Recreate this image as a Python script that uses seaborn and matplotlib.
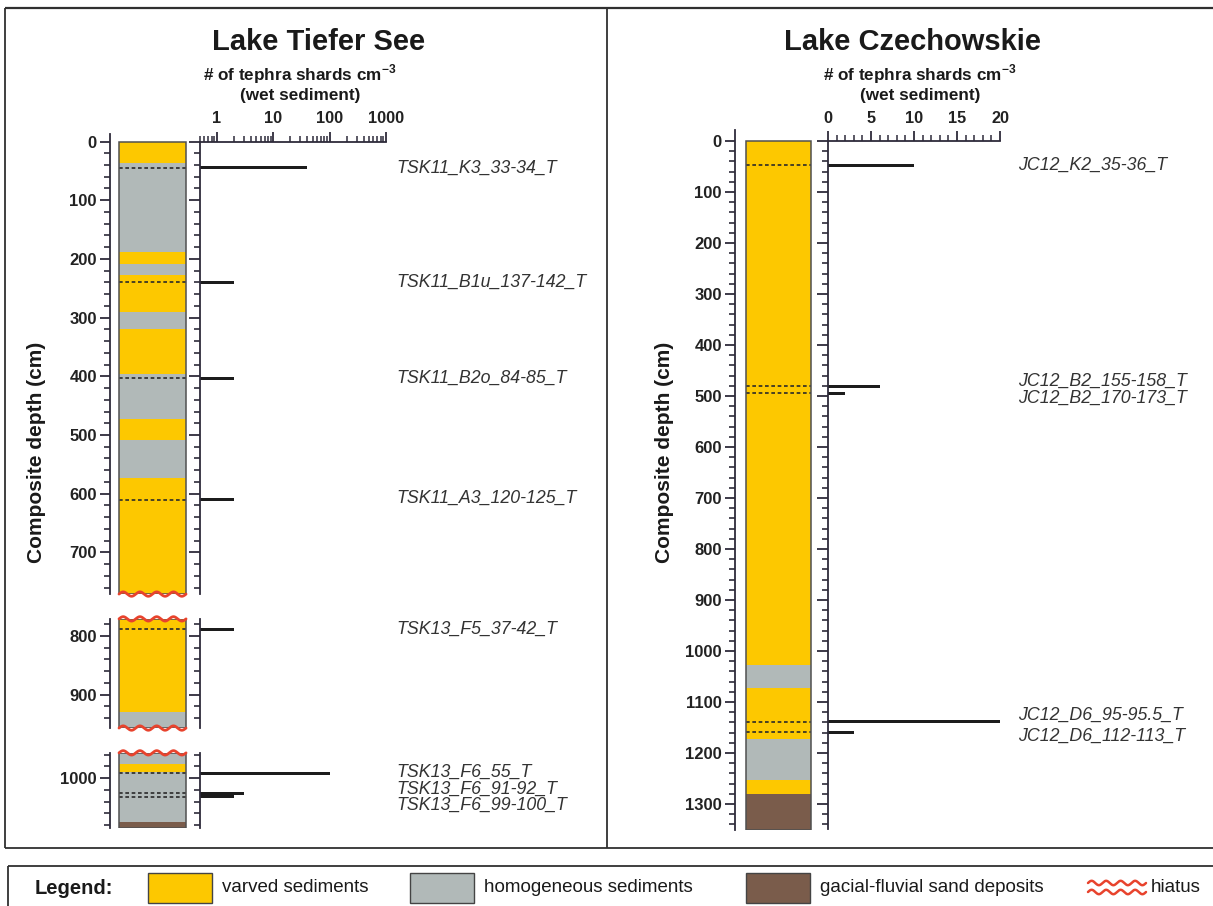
import numpy as np
import pandas as pd
import matplotlib
matplotlib.use("Agg")
import matplotlib.pyplot as plt
import seaborn as sns
from matplotlib.patches import Rectangle
from matplotlib.lines import Line2D
from matplotlib.ticker import LogLocator, NullFormatter

# ---------------- Lake Tiefer See ----------------
tsk_samples = ["TSK11_K3_33-34_T", "TSK11_B1u_137-142_T", "TSK11_B2o_84-85_T",
               "TSK11_A3_120-125_T", "TSK13_F5_37-42_T", "TSK13_F6_55_T",
               "TSK13_F6_91-92_T", "TSK13_F6_99-100_T"]
tsk_depth = [45, 240, 403, 610, 789, 992, 1026, 1032]          # composite depth (cm)
tsk_shards = [40, 2, 2, 2, 2, 100, 3, 2]                         # shards per cm3
tsk_layer_top = [0, 36, 188, 209, 228, 291, 320, 396, 473, 508, 574, 930, 957, 976, 990, 1075]
tsk_layer_bottom = [36, 188, 209, 228, 291, 320, 396, 473, 508, 574, 930, 957, 976, 990, 1075, 1085]
tsk_layer_type = ["varved", "homogeneous", "varved", "homogeneous", "varved", "homogeneous",
                  "varved", "homogeneous", "varved", "homogeneous", "varved", "homogeneous",
                  "homogeneous", "varved", "homogeneous", "sand"]
tsk_hiatus = [771, 957]
tsk_core_base = 1085

# ---------------- Lake Czechowskie ----------------
jc_samples = ["JC12_K2_35-36_T", "JC12_B2_155-158_T", "JC12_B2_170-173_T",
              "JC12_D6_95-95.5_T", "JC12_D6_112-113_T"]
jc_depth = [48, 481, 495, 1139, 1159]
jc_shards = [10, 6, 2, 20, 3]
jc_layer_top = [0, 1028, 1073, 1173, 1253, 1280]
jc_layer_bottom = [1028, 1073, 1173, 1253, 1280, 1350]
jc_layer_type = ["varved", "homogeneous", "varved", "homogeneous", "varved", "sand"]
jc_hiatus = []
jc_core_base = 1350

legend_names = {"varved": "varved sediments",
                "homogeneous": "homogeneous sediments",
                "sand": "gacial-fluvial sand deposits"}

# ---------------- styling ----------------
sns.set_style("ticks")
plt.rcParams["font.family"] = ["Liberation Sans", "DejaVu Sans"]
plt.rcParams["mathtext.fontset"] = "custom"
plt.rcParams["mathtext.rm"] = "Liberation Sans"
plt.rcParams["mathtext.bf"] = "Liberation Sans:bold"

FILL = {"varved": "#FDC800", "homogeneous": "#B1B9B8", "sand": "#7A5C4B"}
INK = "#2E2B3A"
BAR = "#1C1C1C"
WAVE = "#E8432D"

W, H = 1213, 906
fig = plt.figure(figsize=(W / 100, H / 100), dpi=100)


def fx(x):
    return x / W


def fy(y):
    return 1 - y / H


def px_axes(x0, x1, y0, y1):
    return fig.add_axes([x0 / W, 1 - y1 / H, (x1 - x0) / W, (y1 - y0) / H])


def wave(ax, x0, x1, y, amp, periods=4, **kw):
    xs = np.linspace(x0, x1, 300)
    ys = y - amp * np.sin(2 * np.pi * periods * (xs - x0) / (x1 - x0))
    ax.plot(xs, ys, **kw)


def draw_panel(samples, depth, shards, ltop, lbot, ltype, hiatus, base, lay):
    bounds = [0] + list(hiatus) + [base]
    segs = list(zip(bounds[:-1], bounds[1:]))
    scale = lay["scale"]

    def ypx(d, i):
        return lay["y0"] + scale * d + lay["gap"] * i

    def seg_of(d):
        for i, (t, b) in enumerate(segs):
            if t <= d <= b:
                return i
        return len(segs) - 1

    df = pd.DataFrame({"depth": depth, "shards": shards})
    cx0, cx1 = lay["col"]
    amp = 2.2 / scale

    for i, (top, bot) in enumerate(segs):
        d_top = top - lay["overhang"] if i == 0 else top
        # ---- depth scale and lithology column ----
        ax_d = px_axes(lay["x_axis"], lay["x_bar"], ypx(d_top, i), ypx(bot, i))
        ax_d.patch.set_visible(False)
        ax_d.set_xlim(0, 1)
        ax_d.set_ylim(bot, d_top)
        for t, b, k in zip(ltop, lbot, ltype):
            t2, b2 = max(t, top), min(b, bot)
            if b2 > t2:
                ax_d.add_patch(Rectangle((cx0, t2), cx1 - cx0, b2 - t2,
                                         fc=FILL[k], ec="none", zorder=1))
        ax_d.add_patch(Rectangle((cx0, top), cx1 - cx0, bot - top, fill=False,
                                 ec="#505050", lw=1.1, zorder=3))
        for d in depth:
            if top <= d <= bot:
                ax_d.plot([cx0, cx1], [d, d], color="#2a2a2a", lw=1.2,
                          ls=(0, (2.2, 1.6)), zorder=2)
        if i > 0:
            wave(ax_d, cx0, cx1, top, amp, color=WAVE, lw=2, zorder=4, clip_on=False)
        if i < len(segs) - 1:
            wave(ax_d, cx0, cx1, bot, amp, color=WAVE, lw=2, zorder=4, clip_on=False)

        majors = [v for v in range(0, 1500, 100) if d_top <= v <= bot]
        minors = [v for v in range(0, 1500, 20) if d_top <= v <= bot and v % 100]
        ax_d.set_xticks([])
        ax_d.set_yticks(majors, labels=[str(v) for v in majors],
                        fontsize=12, fontweight="bold", color="#222222")
        ax_d.set_yticks(minors, minor=True)
        ax_d.tick_params(axis="y", which="major", length=7.5, width=1.3,
                         direction="out", pad=2, color=INK)
        ax_d.tick_params(axis="y", which="minor", length=4, width=1.2,
                         direction="out", color=INK)
        for s in ("top", "right", "bottom"):
            ax_d.spines[s].set_visible(False)
        ax_d.spines["left"].set_color(INK)
        ax_d.spines["left"].set_linewidth(1.3)

        # ---- tephra concentration bars ----
        ax_b = px_axes(lay["x_bar"], lay["x_end"], ypx(top, i), ypx(bot, i))
        ax_b.patch.set_visible(False)
        if lay["log"]:
            ax_b.set_xscale("log")
        sub = df[(df.depth >= top) & (df.depth <= bot)]
        if len(sub):
            uniq = np.sort(sub.depth.unique())
            spacing = np.diff(uniq).min() if len(uniq) > 1 else 1.0
            sns.barplot(data=sub, x="shards", y="depth", orient="y", native_scale=True,
                        width=lay["bar_cm"] / spacing, color=BAR, saturation=1,
                        errorbar=None, linewidth=0, ax=ax_b)
        ax_b.set_xlabel("")
        ax_b.set_ylabel("")
        ax_b.set_xlim(*lay["xlim"])
        ax_b.set_ylim(bot, top)
        ax_b.set_yticks(majors, labels=[])
        ax_b.set_yticks(minors, minor=True)
        ax_b.tick_params(axis="y", which="major", length=8, width=1.3,
                         direction="out", color=INK)
        ax_b.tick_params(axis="y", which="minor", length=4.5, width=1.2,
                         direction="out", color=INK)
        for s in ("right", "bottom"):
            ax_b.spines[s].set_visible(False)
        ax_b.spines["left"].set_color(INK)
        ax_b.spines["left"].set_linewidth(1.3)
        if i == 0:
            ax_b.xaxis.set_ticks_position("top")
            ax_b.set_xticks(lay["xticks"], labels=[str(v) for v in lay["xticks"]],
                            fontsize=11.7, fontweight="bold", color="#222222")
            if lay["log"]:
                ax_b.xaxis.set_minor_locator(LogLocator(base=10, subs=np.arange(2, 10)))
            else:
                ax_b.set_xticks(np.arange(lay["xlim"][0], lay["xlim"][1] + 1, 1), minor=True)
            ax_b.xaxis.set_minor_formatter(NullFormatter())
            ax_b.tick_params(axis="x", which="major", top=True, bottom=False,
                             length=7, width=1.3, direction="out", pad=4, color=INK)
            ax_b.tick_params(axis="x", which="minor", top=True, bottom=False,
                             length=4, width=1.1, direction="out", color=INK)
            ax_b.spines["top"].set_color(INK)
            ax_b.spines["top"].set_linewidth(1.3)
        else:
            ax_b.set_xticks([])
            ax_b.xaxis.set_minor_locator(matplotlib.ticker.NullLocator())
            ax_b.spines["top"].set_visible(False)

    # sample names
    for name, d in zip(samples, lay["label_depth"]):
        fig.text(fx(lay["x_label"]), fy(ypx(d, seg_of(d))), name, fontsize=12.8,
                 style="italic", color="#333333", va="center", ha="left")

    # headings
    fig.text(fx(lay["cx"]), fy(50), lay["title"], fontsize=21, fontweight="bold",
             ha="center", va="baseline", color="#1a1a1a")
    fig.text(fx(lay["tx"]), fy(80.5), r"# of tephra shards cm$^{\mathbf{-3}}$",
             fontsize=12.3, fontweight="bold", ha="center", va="baseline", color="#1a1a1a")
    fig.text(fx(lay["tx"]), fy(100), "(wet sediment)", fontsize=12.3, fontweight="bold",
             ha="center", va="baseline", color="#1a1a1a")
    fig.text(fx(lay["ylab_x"]), fy(452), "Composite depth (cm)", rotation=90,
             fontsize=15, fontweight="bold", ha="center", va="center", color="#1a1a1a")


tsk_layout = dict(y0=141.5, scale=0.587, gap=24.8, overhang=13, x_axis=110, x_bar=200,
                  x_end=386, col=(0.10, 0.845), log=True, xlim=(0.5, 1000),
                  xticks=[1, 10, 100, 1000], bar_cm=5.0, x_label=396,
                  label_depth=[45, 240, 403, 608, 789, 990, 1019, 1046],
                  title="Lake Tiefer See", cx=318.5, tx=300, ylab_x=37)
jc_layout = dict(y0=141, scale=0.51, gap=0, overhang=21, x_axis=735, x_bar=828,
                 x_end=1000, col=(0.118, 0.817), log=False, xlim=(0, 20),
                 xticks=[0, 5, 10, 15, 20], bar_cm=6.0, x_label=1018,
                 label_depth=[47, 472, 505, 1127, 1167],
                 title="Lake Czechowskie", cx=912, tx=920, ylab_x=664)

draw_panel(tsk_samples, tsk_depth, tsk_shards, tsk_layer_top, tsk_layer_bottom,
           tsk_layer_type, tsk_hiatus, tsk_core_base, tsk_layout)
draw_panel(jc_samples, jc_depth, jc_shards, jc_layer_top, jc_layer_bottom,
           jc_layer_type, jc_hiatus, jc_core_base, jc_layout)

# ---------------- frames ----------------
FRAME = "#303030"


def fline(x0, y0, x1, y1, lw=1.3):
    fig.add_artist(Line2D([fx(x0), fx(x1)], [fy(y0), fy(y1)], transform=fig.transFigure,
                          color=FRAME, lw=lw, solid_capstyle="butt"))


fline(5, 8, 1220, 8, lw=1.6)
fline(5, 8, 5, 848)
fline(5, 848, 1220, 848)
fline(607, 8, 607, 848)
fline(8, 866, 1220, 866)
fline(8, 866, 8, 910)

# ---------------- legend ----------------
LEG_Y = 888
fig.text(fx(35), fy(LEG_Y), "Legend:", fontsize=14.5, fontweight="bold",
         va="center", ha="left", color="#1a1a1a")
for x0, key in [(148, "varved"), (410, "homogeneous"), (746, "sand")]:
    fig.add_artist(Rectangle((fx(x0), fy(903)), 64 / W, 30 / H, transform=fig.transFigure,
                             fc=FILL[key], ec="#444444", lw=1))
    fig.text(fx(x0 + 74), fy(LEG_Y), legend_names[key], fontsize=13.5,
             va="center", ha="left", color="#1a1a1a")
leg_ax = fig.add_axes([0, 0, 1, 1], zorder=-1)
leg_ax.set_xlim(0, W)
leg_ax.set_ylim(H, 0)
leg_ax.axis("off")
for yy in (883, 892):
    wave(leg_ax, 1088, 1146, yy, 2.2, periods=4, color=WAVE, lw=1.8)
fig.text(fx(1151), fy(LEG_Y), "hiatus", fontsize=13.5,
         va="center", ha="left", color="#1a1a1a")

fig.savefig("out.png", dpi=100)
